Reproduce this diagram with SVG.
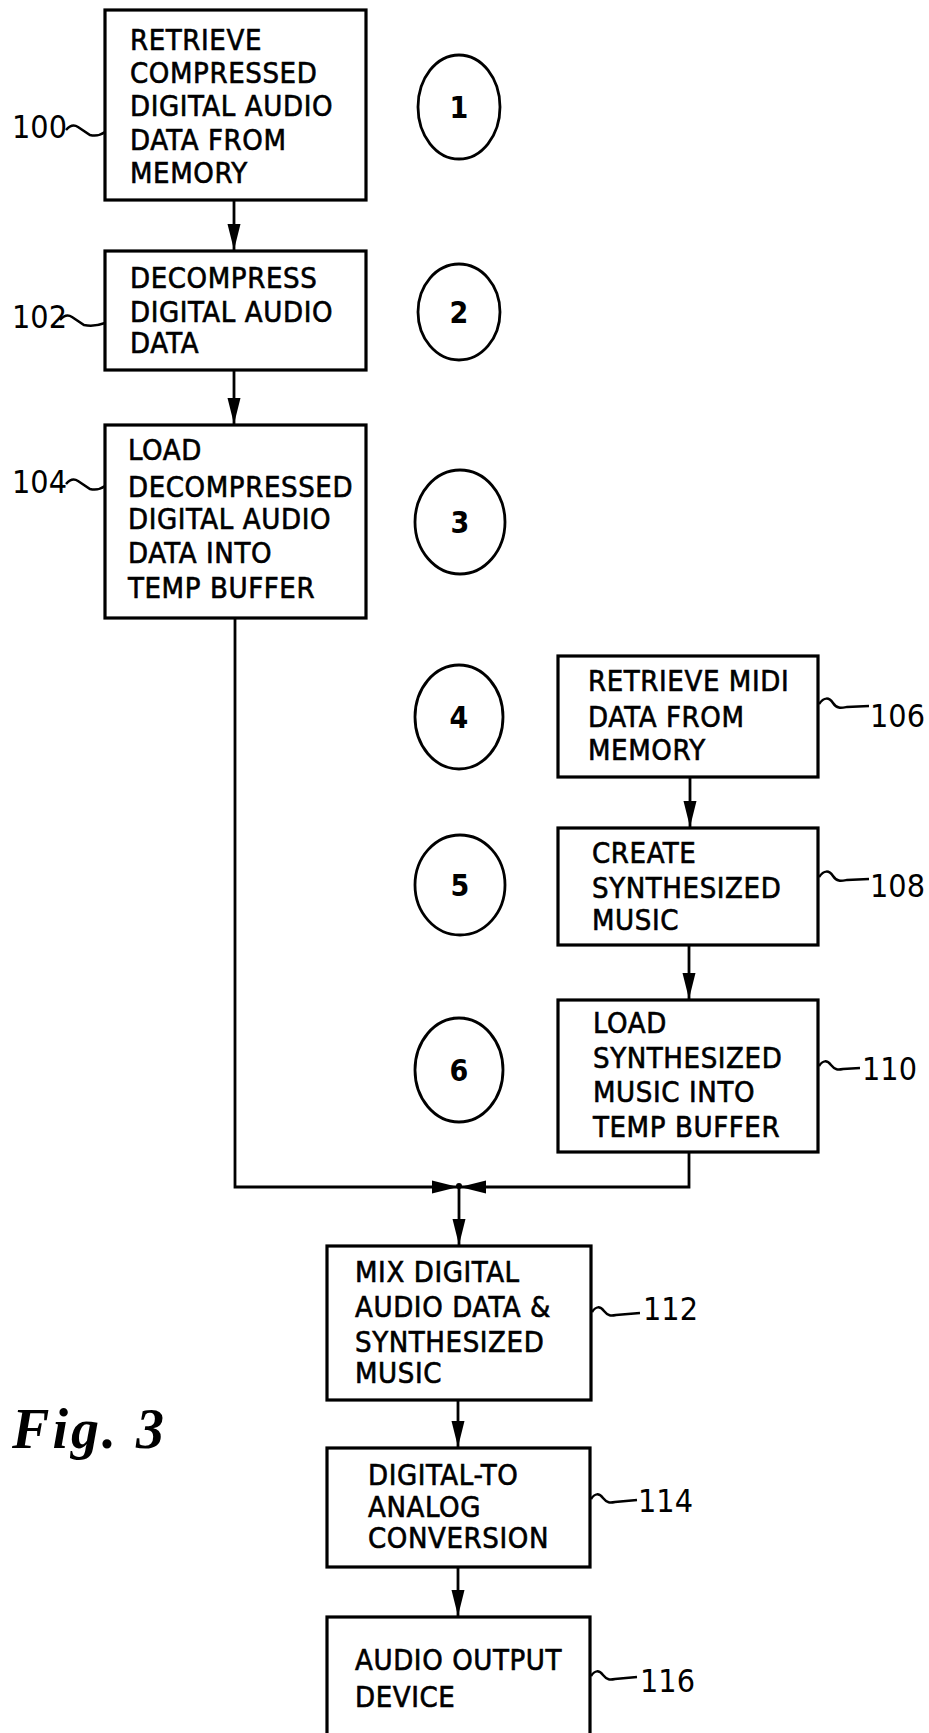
<svg xmlns="http://www.w3.org/2000/svg" width="929" height="1733" viewBox="0 0 929 1733">
<style>
  .box { fill: #fff; stroke: #000; stroke-width: 3.2; }
  .t { font-family: "DejaVu Sans Condensed", "DejaVu Sans", sans-serif; font-stretch: condensed; font-size: 29px; fill: #000; stroke: #000; stroke-width: 0.6; letter-spacing: 0.6px; }
  .lbl { font-family: "DejaVu Sans Condensed", "DejaVu Sans", sans-serif; font-stretch: condensed; font-size: 32px; fill: #000; }
  .num { font-family: "DejaVu Sans Condensed", "DejaVu Sans", sans-serif; font-stretch: condensed; font-size: 30px; font-weight: bold; fill: #000; text-anchor: middle; }
  .circ { fill: none; stroke: #000; stroke-width: 2.8; }
  .tilde { fill: none; stroke: #000; stroke-width: 2.5; }
  .conn { fill: none; stroke: #000; stroke-width: 2.8; }
  .fig { font-family: "Liberation Serif", serif; font-style: italic; font-weight: bold; font-size: 56px; fill: #000; }
</style>
<defs>
  <marker id="arr" markerUnits="userSpaceOnUse" markerWidth="28" markerHeight="16" refX="26" refY="8" orient="auto">
    <path d="M0,1.5 L26,8 L0,14.5 Z" fill="#000"/>
  </marker>
</defs>

<g id="connectors">
  <path class="conn" d="M234,200 V250" marker-end="url(#arr)"/>
  <path class="conn" d="M234,370 V424" marker-end="url(#arr)"/>
  <path class="conn" d="M235,618 V1187 H458" marker-end="url(#arr)"/>
  <path class="conn" d="M690,777 V827" marker-end="url(#arr)"/>
  <path class="conn" d="M689,945 V999" marker-end="url(#arr)"/>
  <path class="conn" d="M689,1152 V1187 H460" marker-end="url(#arr)"/>
  <path class="conn" d="M459,1187 V1245" marker-end="url(#arr)"/>
  <path class="conn" d="M458,1400 V1447" marker-end="url(#arr)"/>
  <path class="conn" d="M458,1567 V1616" marker-end="url(#arr)"/>
  <circle cx="459" cy="1186" r="3" fill="#000"/>
</g>

<g id="n100">
  <rect class="box" x="105" y="10" width="261" height="190"/>
  <text class="t" x="130" y="50">RETRIEVE</text>
  <text class="t" x="130" y="83">COMPRESSED</text>
  <text class="t" x="130" y="116">DIGITAL AUDIO</text>
  <text class="t" x="130" y="150">DATA FROM</text>
  <text class="t" x="130" y="183">MEMORY</text>
  <text class="lbl" x="12" y="138">100</text>
  <path class="tilde" d="M66,130 q6,-7 12,-3 t12,8 q8,2 15,-3"/>
</g>

<g id="n102">
  <rect class="box" x="105" y="251" width="261" height="119"/>
  <text class="t" x="130" y="288">DECOMPRESS</text>
  <text class="t" x="130" y="322">DIGITAL AUDIO</text>
  <text class="t" x="130" y="353">DATA</text>
  <text class="lbl" x="12" y="328">102</text>
  <path class="tilde" d="M60,320 q6,-7 12,-3 t12,8 q10,2 21,-2"/>
</g>

<g id="n104">
  <rect class="box" x="105" y="425" width="261" height="193"/>
  <text class="t" x="128" y="460">LOAD</text>
  <text class="t" x="128" y="497">DECOMPRESSED</text>
  <text class="t" x="128" y="529">DIGITAL AUDIO</text>
  <text class="t" x="128" y="563">DATA INTO</text>
  <text class="t" x="128" y="598">TEMP BUFFER</text>
  <text class="lbl" x="12" y="493">104</text>
  <path class="tilde" d="M66,484 q6,-7 12,-3 t12,8 q8,2 15,-3"/>
</g>

<g id="n106">
  <rect class="box" x="558" y="656" width="260" height="121"/>
  <text class="t" x="588" y="691">RETRIEVE MIDI</text>
  <text class="t" x="588" y="727">DATA FROM</text>
  <text class="t" x="588" y="760">MEMORY</text>
  <path class="tilde" d="M819,704 c5,-7 10,-7 14,-1 s8,5 14,4 l22,-1"/>
  <text class="lbl" x="870" y="727">106</text>
</g>

<g id="n108">
  <rect class="box" x="558" y="828" width="260" height="117"/>
  <text class="t" x="592" y="863">CREATE</text>
  <text class="t" x="592" y="898">SYNTHESIZED</text>
  <text class="t" x="592" y="930">MUSIC</text>
  <path class="tilde" d="M819,877 c5,-7 10,-7 14,-1 s8,5 14,4 l22,-1"/>
  <text class="lbl" x="870" y="897">108</text>
</g>

<g id="n110">
  <rect class="box" x="558" y="1000" width="260" height="152"/>
  <text class="t" x="593" y="1033">LOAD</text>
  <text class="t" x="593" y="1068">SYNTHESIZED</text>
  <text class="t" x="593" y="1102">MUSIC INTO</text>
  <text class="t" x="593" y="1137">TEMP BUFFER</text>
  <path class="tilde" d="M819,1066 c4,-6 8,-6 12,-1 s7,5 12,4 l17,-1"/>
  <text class="lbl" x="862" y="1080">110</text>
</g>

<g id="n112">
  <rect class="box" x="327" y="1246" width="264" height="154"/>
  <text class="t" x="355" y="1282">MIX DIGITAL</text>
  <text class="t" x="355" y="1317">AUDIO DATA &amp;</text>
  <text class="t" x="355" y="1352">SYNTHESIZED</text>
  <text class="t" x="355" y="1383">MUSIC</text>
  <path class="tilde" d="M592,1312 c4,-6 8,-6 12,-1 s7,5 12,4 l24,-2"/>
  <text class="lbl" x="643" y="1320">112</text>
</g>

<g id="n114">
  <rect class="box" x="327" y="1448" width="263" height="119"/>
  <text class="t" x="368" y="1485">DIGITAL-TO</text>
  <text class="t" x="368" y="1517">ANALOG</text>
  <text class="t" x="368" y="1548">CONVERSION</text>
  <path class="tilde" d="M591,1499 c4,-6 8,-6 12,-1 s7,5 12,4 l22,-2"/>
  <text class="lbl" x="638" y="1512">114</text>
</g>

<g id="n116">
  <rect class="box" x="327" y="1617" width="263" height="130"/>
  <text class="t" x="355" y="1670">AUDIO OUTPUT</text>
  <text class="t" x="355" y="1707">DEVICE</text>
  <path class="tilde" d="M591,1676 c4,-6 8,-6 12,-1 s7,5 12,4 l22,-2"/>
  <text class="lbl" x="640" y="1692">116</text>
</g>

<g id="steps">
  <ellipse class="circ" cx="459" cy="107" rx="41" ry="52"/>
  <text class="num" x="459" y="118">1</text>
  <ellipse class="circ" cx="459" cy="312" rx="41" ry="48"/>
  <text class="num" x="459" y="323">2</text>
  <ellipse class="circ" cx="460" cy="522" rx="45" ry="52"/>
  <text class="num" x="460" y="533">3</text>
  <ellipse class="circ" cx="459" cy="717" rx="44" ry="52"/>
  <text class="num" x="459" y="728">4</text>
  <ellipse class="circ" cx="460" cy="885" rx="45" ry="50"/>
  <text class="num" x="460" y="896">5</text>
  <ellipse class="circ" cx="459" cy="1070" rx="44" ry="52"/>
  <text class="num" x="459" y="1081">6</text>
</g>

<text class="fig" x="12" y="1448" textLength="152" lengthAdjust="spacing">Fig. 3</text>
</svg>
